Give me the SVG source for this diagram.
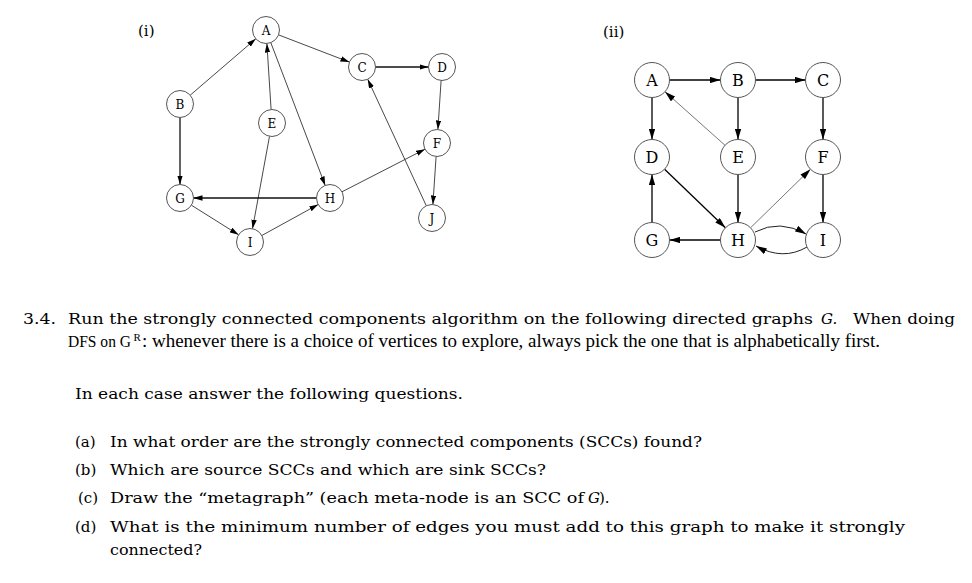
<svg xmlns="http://www.w3.org/2000/svg" width="972" height="583" viewBox="0 0 972 583">
<defs>
<style>
.n1 circle{fill:#fff;stroke:#555;stroke-width:1}
.n1 text{font-family:"DejaVu Serif",serif;font-size:12px;text-anchor:middle;fill:#000}
.n2 circle{fill:#fff;stroke:#555;stroke-width:1}
.n2 text{font-family:"DejaVu Serif",serif;font-size:16px;text-anchor:middle;fill:#000}
.e1{stroke:#333;stroke-width:0.9;fill:none;marker-end:url(#a1)}
.e1b{stroke:#111;stroke-width:1.3;fill:none;marker-end:url(#a1)}
.e2{stroke:#000;stroke-width:1.3;fill:none;marker-end:url(#a2)}
.e2c{stroke:#222;stroke-width:1;fill:none;marker-end:url(#a2)}
.e2g{stroke:#777;stroke-width:1;fill:none;marker-end:url(#a2)}
.t{font-family:"DejaVu Serif",serif;font-size:15px;fill:#000}
.p{font-family:"Liberation Serif",serif;font-size:18px;fill:#000}
.it{font-style:italic}
</style>
<marker id="a1" viewBox="0 0 10 6" refX="10" refY="3" markerWidth="9" markerHeight="5.5" markerUnits="userSpaceOnUse" orient="auto"><path d="M0,0 L10,3 L0,6 z" fill="#000"/></marker>
<marker id="a2" viewBox="0 0 10 6" refX="10" refY="3" markerWidth="11" markerHeight="6.5" markerUnits="userSpaceOnUse" orient="auto"><path d="M0,0 L10,3 L0,6 z" fill="#000"/></marker>
</defs>
<rect width="972" height="583" fill="#fff"/>

<text class="t" x="138" y="36">(i)</text>
<text class="t" x="603" y="37">(ii)</text>

<g id="edges1">
<line class="e1" x1="190.2" y1="95.2" x2="255.8" y2="38.8"/>
<line class="e1" x1="278.6" y1="34.9" x2="349.4" y2="62.1"/>
<line class="e1b" x1="375.5" y1="67" x2="428.5" y2="67"/>
<line class="e1" x1="441.1" y1="80.5" x2="437.9" y2="129.5"/>
<line class="e1" x1="436.1" y1="156.5" x2="432.9" y2="204.5"/>
<line class="e1" x1="426.3" y1="205.8" x2="367.7" y2="79.2"/>
<line class="e1" x1="270.8" y1="42.6" x2="325.2" y2="185.4"/>
<line class="e1" x1="271.1" y1="109.5" x2="266.9" y2="43.5"/>
<line class="e1" x1="269.5" y1="136.3" x2="252.5" y2="228.7"/>
<line class="e1b" x1="180" y1="117.5" x2="180" y2="184.5"/>
<line class="e1b" x1="316.5" y1="198" x2="193.5" y2="198"/>
<line class="e1" x1="191.4" y1="205.2" x2="238.6" y2="234.8"/>
<line class="e1" x1="261.8" y1="235.5" x2="318.2" y2="204.5"/>
<line class="e1" x1="342" y1="191.8" x2="425" y2="149.2"/>
</g>

<g id="i-A" class="n1"><circle cx="266" cy="30" r="13.5"/><text x="266" y="34.5">A</text></g>
<g id="i-B" class="n1"><circle cx="180" cy="104" r="13.5"/><text x="180" y="108.5">B</text></g>
<g id="i-C" class="n1"><circle cx="362" cy="67" r="13.5"/><text x="362" y="71.5">C</text></g>
<g id="i-D" class="n1"><circle cx="442" cy="67" r="13.5"/><text x="442" y="71.5">D</text></g>
<g id="i-E" class="n1"><circle cx="272" cy="123" r="13.5"/><text x="272" y="127.5">E</text></g>
<g id="i-F" class="n1"><circle cx="437" cy="143" r="13.5"/><text x="437" y="147.5">F</text></g>
<g id="i-G" class="n1"><circle cx="180" cy="198" r="13.5"/><text x="180" y="202.5">G</text></g>
<g id="i-H" class="n1"><circle cx="330" cy="198" r="13.5"/><text x="330" y="202.5">H</text></g>
<g id="i-I" class="n1"><circle cx="250" cy="242" r="13.5"/><text x="250" y="246.5">I</text></g>
<g id="i-J" class="n1"><circle cx="432" cy="218" r="13.5"/><text x="432" y="222.5">J</text></g>

<g id="edges2">
<line class="e2" x1="669.5" y1="80" x2="720.5" y2="80"/>
<line class="e2" x1="755.5" y1="80" x2="805.5" y2="80"/>
<line class="e2" x1="652" y1="97.5" x2="652" y2="139.5"/>
<line class="e2" x1="738" y1="97.5" x2="738" y2="139.5"/>
<line class="e2" x1="823" y1="97.5" x2="823" y2="139.5"/>
<line class="e2g" x1="725" y1="145.3" x2="665" y2="91.7"/>
<line class="e2" x1="738" y1="174.5" x2="738" y2="222.5"/>
<line class="e2" x1="664.6" y1="169.2" x2="725.4" y2="227.8"/>
<line class="e2g" x1="750.5" y1="227.8" x2="810.5" y2="169.2"/>
<line class="e2" x1="823" y1="174.5" x2="823" y2="222.5"/>
<line class="e2" x1="652" y1="222.5" x2="652" y2="174.5"/>
<line class="e2" x1="720.5" y1="240" x2="669.5" y2="240"/>
<path class="e2c" d="M755,232 Q780,219 806,234"/>
<path class="e2c" d="M807,247 Q783,261 756,246"/>
</g>

<g id="ii-A" class="n2"><circle cx="652" cy="80" r="17.5"/><text x="652" y="86">A</text></g>
<g id="ii-B" class="n2"><circle cx="738" cy="80" r="17.5"/><text x="738" y="86">B</text></g>
<g id="ii-C" class="n2"><circle cx="823" cy="80" r="17.5"/><text x="823" y="86">C</text></g>
<g id="ii-D" class="n2"><circle cx="652" cy="157" r="17.5"/><text x="652" y="163">D</text></g>
<g id="ii-E" class="n2"><circle cx="738" cy="157" r="17.5"/><text x="738" y="163">E</text></g>
<g id="ii-F" class="n2"><circle cx="823" cy="157" r="17.5"/><text x="823" y="163">F</text></g>
<g id="ii-G" class="n2"><circle cx="652" cy="240" r="17.5"/><text x="652" y="246">G</text></g>
<g id="ii-H" class="n2"><circle cx="738" cy="240" r="17.5"/><text x="738" y="246">H</text></g>
<g id="ii-I" class="n2"><circle cx="823" cy="240" r="17.5"/><text x="823" y="246">I</text></g>

<g id="problem">
<text class="t" x="23" y="324" textLength="33" lengthAdjust="spacingAndGlyphs">3.4.</text>
<text class="t" x="68" y="324" textLength="745" lengthAdjust="spacingAndGlyphs">Run the strongly connected components algorithm on the following directed graphs</text>
<text class="t it" x="821" y="324">G.</text>
<text class="t" x="853" y="324" textLength="102" lengthAdjust="spacingAndGlyphs">When doing</text>
<text class="p" x="68" y="347" style="font-size:17px" textLength="63" lengthAdjust="spacingAndGlyphs">DFS on G</text>
<text class="p" x="133.5" y="340.5" style="font-size:11px">R</text>
<text class="p" x="142" y="347" textLength="738" lengthAdjust="spacingAndGlyphs">: whenever there is a choice of vertices to explore, always pick the one that is alphabetically first.</text>
<text class="t" x="75" y="399" textLength="388" lengthAdjust="spacingAndGlyphs">In each case answer the following questions.</text>
<text class="t" x="75" y="447">(a)</text>
<text class="t" x="110" y="447" textLength="592" lengthAdjust="spacingAndGlyphs">In what order are the strongly connected components (SCCs) found?</text>
<text class="t" x="75" y="475">(b)</text>
<text class="t" x="110" y="475" textLength="436" lengthAdjust="spacingAndGlyphs">Which are source SCCs and which are sink SCCs?</text>
<text class="t" x="78" y="503">(c)</text>
<text class="t" x="110" y="503" textLength="474" lengthAdjust="spacingAndGlyphs">Draw the “metagraph” (each meta-node is an SCC of</text>
<text class="t it" x="588" y="503">G</text>
<text class="t" x="599" y="503">).</text>
<text class="t" x="75" y="532">(d)</text>
<text class="t" x="110" y="532" textLength="795" lengthAdjust="spacingAndGlyphs">What is the minimum number of edges you must add to this graph to make it strongly</text>
<text class="t" x="110" y="555" textLength="92" lengthAdjust="spacingAndGlyphs">connected?</text>
</g>
</svg>
